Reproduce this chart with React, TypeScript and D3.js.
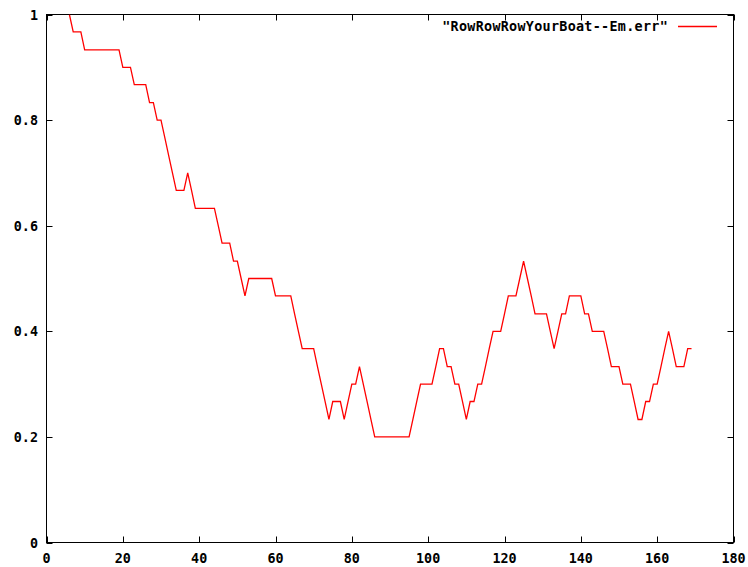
import { useEffect, useRef } from 'react';
import * as d3 from 'd3';

// error curve, one value per epoch starting at epoch 6
const startEpoch = 6;
const errValues = [
  1, 0.967, 0.967, 0.967, 0.933, 0.933, 0.933, 0.933, 0.933, 0.933, 0.933, 0.933, 0.933, 0.933,
  0.9, 0.9, 0.9, 0.867, 0.867, 0.867, 0.867, 0.833, 0.833, 0.8, 0.8,
  0.767, 0.733, 0.7, 0.667, 0.667, 0.667, 0.7, 0.667,
  0.633, 0.633, 0.633, 0.633, 0.633, 0.633, 0.6, 0.567, 0.567, 0.567, 0.533, 0.533, 0.5, 0.467,
  0.5, 0.5, 0.5, 0.5, 0.5, 0.5, 0.5, 0.467, 0.467, 0.467, 0.467, 0.467,
  0.433, 0.4, 0.367, 0.367, 0.367, 0.367, 0.333, 0.3, 0.267, 0.233,
  0.267, 0.267, 0.267, 0.233, 0.267, 0.3, 0.3, 0.333, 0.3, 0.267, 0.233,
  0.2, 0.2, 0.2, 0.2, 0.2, 0.2, 0.2, 0.2, 0.2, 0.2,
  0.233, 0.267, 0.3, 0.3, 0.3, 0.3, 0.333, 0.367, 0.367, 0.333, 0.333, 0.3, 0.3, 0.267, 0.233,
  0.267, 0.267, 0.3, 0.3, 0.333, 0.367, 0.4, 0.4, 0.4, 0.433, 0.467, 0.467, 0.467,
  0.5, 0.533, 0.5, 0.467, 0.433, 0.433, 0.433, 0.433, 0.4, 0.367, 0.4, 0.433, 0.433,
  0.467, 0.467, 0.467, 0.467, 0.433, 0.433, 0.4, 0.4, 0.4, 0.4, 0.367, 0.333, 0.333, 0.333,
  0.3, 0.3, 0.3, 0.267, 0.233, 0.233, 0.267, 0.267, 0.3, 0.3, 0.333, 0.367, 0.4, 0.367,
  0.333, 0.333, 0.333, 0.367, 0.367,
];

const xTicks = [0, 20, 40, 60, 80, 100, 120, 140, 160, 180];
const yTicks = [0, 0.2, 0.4, 0.6, 0.8, 1];
const yTickLabels = ['0', '0.2', '0.4', '0.6', '0.8', '1'];
const seriesLabel = '"RowRowRowYourBoat--Em.err"';

const ErrChart = () => {
  const ref = useRef<SVGSVGElement>(null);

  useEffect(() => {
    const svg = d3.select(ref.current);
    svg.selectAll('*').remove();

    const left = 46.5;
    const right = 733.5;
    const top = 14.5;
    const bottom = 542.5;
    const tickLen = 6;
    const font = '"DejaVu Sans Mono", monospace';
    const fontSize = '13.4px';

    const x = d3.scaleLinear().domain([0, 180]).range([left, right]);
    const y = d3.scaleLinear().domain([0, 1]).range([bottom, top]);

    svg.append('rect').attr('width', 748).attr('height', 567).attr('fill', '#fff');

    // ticks (mirrored on all sides, pointing inward)
    const ticks = svg.append('g').attr('stroke', '#000').attr('stroke-width', 1);
    xTicks.forEach((t) => {
      const px = Math.round(x(t)) + 0.5;
      ticks.append('line').attr('x1', px).attr('x2', px).attr('y1', bottom).attr('y2', bottom - tickLen);
      ticks.append('line').attr('x1', px).attr('x2', px).attr('y1', top).attr('y2', top + tickLen);
    });
    yTicks.forEach((t) => {
      const py = Math.round(y(t)) + 0.5;
      ticks.append('line').attr('x1', left).attr('x2', left + tickLen).attr('y1', py).attr('y2', py);
      ticks.append('line').attr('x1', right).attr('x2', right - tickLen).attr('y1', py).attr('y2', py);
    });

    svg
      .append('rect')
      .attr('x', left)
      .attr('y', top)
      .attr('width', right - left)
      .attr('height', bottom - top)
      .attr('fill', 'none')
      .attr('stroke', '#000')
      .attr('stroke-width', 1);

    svg
      .append('g')
      .selectAll('text')
      .data(xTicks)
      .enter()
      .append('text')
      .attr('x', (d) => x(d))
      .attr('y', 563)
      .attr('text-anchor', 'middle')
      .attr('font-family', font)
      .attr('font-weight', 'bold')
      .attr('font-size', fontSize)
      .text((d) => String(d));

    svg
      .append('g')
      .selectAll('text')
      .data(yTicks)
      .enter()
      .append('text')
      .attr('x', 38)
      .attr('y', (d) => y(d) + 5)
      .attr('text-anchor', 'end')
      .attr('font-family', font)
      .attr('font-weight', 'bold')
      .attr('font-size', fontSize)
      .text((_, i) => yTickLabels[i]);

    svg
      .append('defs')
      .append('clipPath')
      .attr('id', 'plot-clip')
      .append('rect')
      .attr('x', left)
      .attr('y', top)
      .attr('width', right - left)
      .attr('height', bottom - top);

    const line = d3
      .line<number>()
      .x((_, i) => x(startEpoch + i))
      .y((d) => y(d));

    svg
      .append('path')
      .datum(errValues)
      .attr('clip-path', 'url(#plot-clip)')
      .attr('d', line)
      .attr('fill', 'none')
      .attr('stroke', '#ff0000')
      .attr('stroke-width', 1.3);

    // legend
    svg
      .append('text')
      .attr('x', 668)
      .attr('y', 31)
      .attr('text-anchor', 'end')
      .attr('font-family', font)
      .attr('font-weight', 'bold')
      .attr('font-size', fontSize)
      .attr('letter-spacing', '0.3px')
      .text(seriesLabel);

    svg
      .append('line')
      .attr('x1', 678)
      .attr('x2', 717)
      .attr('y1', 26.5)
      .attr('y2', 26.5)
      .attr('stroke', '#ff0000')
      .attr('stroke-width', 1.3);
  }, []);

  return <svg ref={ref} width={748} height={567} style={{ position: 'absolute', left: 0, top: 0 }}></svg>;
};

export default function App() {
  return <ErrChart />;
}
